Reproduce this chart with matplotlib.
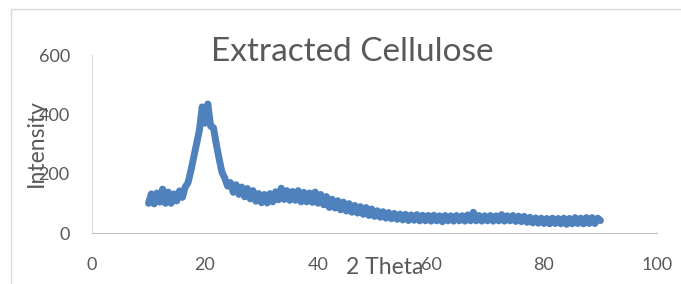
import numpy as np
import matplotlib.pyplot as plt
from matplotlib.lines import Line2D

# 2 theta grid (step 0.5) and intensities
two_theta = np.arange(10, 90.01, 0.5)
intensity = [
    100, 132, 98, 135, 104, 148, 100, 138, 100, 132,
    108, 142, 120, 155, 170, 210, 255, 300, 345, 425,
    370, 435, 360, 355, 300, 250, 205, 185, 158, 170,
    137, 163, 130, 155, 122, 150, 115, 143, 107, 133,
    102, 130, 101, 133, 105, 139, 112, 151, 113, 143,
    110, 140, 110, 143, 105, 137, 105, 135, 103, 138,
    100, 130, 95, 123, 86, 114, 84, 109, 78, 104,
    74, 99, 70, 93, 67, 89, 63, 86, 59, 81,
    56, 75, 53, 72, 50, 69, 48, 66, 46, 64,
    44, 63, 42, 61, 43, 62, 41, 60, 41, 59,
    40, 60, 41, 58, 38, 59, 41, 58, 40, 59,
    41, 58, 40, 61, 41, 70, 41, 59, 40, 58,
    41, 59, 40, 58, 41, 62, 40, 58, 41, 59,
    39, 57, 38, 56, 36, 53, 34, 51, 33, 50,
    32, 49, 31, 50, 32, 49, 31, 50, 29, 49,
    31, 52, 32, 50, 31, 52, 32, 52, 32, 50,
    42,
]

x_ticks = [0, 20, 40, 60, 80, 100]
y_ticks = [0, 200, 400, 600]

txt = '#595959'
plt.rcParams['font.family'] = ['Lato', 'DejaVu Sans']

fig = plt.figure(figsize=(6.81, 2.84), dpi=100)
ax = fig.add_axes([92 / 681, 1 - 233 / 284, 565 / 681, 178 / 284])

ax.plot(two_theta, intensity, color='#4F81BD', linewidth=5,
        solid_joinstyle='round', solid_capstyle='round')

ax.set_xlim(0, 100)
ax.set_ylim(0, 600)
ax.set_xticks(x_ticks)
ax.set_yticks(y_ticks)
ax.tick_params(length=0, labelsize=13, labelcolor=txt)
ax.tick_params(axis='y', pad=16)
ax.tick_params(axis='x', pad=17)
for s in ['top', 'right']:
    ax.spines[s].set_visible(False)
ax.spines['left'].set_color('#D9D9D9')
ax.spines['bottom'].set_color('#BFBFBF')

# chart area border
fig.add_artist(Line2D([11 / 681, 11 / 681], [0, 1 - 9 / 284], color='#D9D9D9', lw=1))
fig.add_artist(Line2D([11 / 681, 1], [1 - 9 / 284, 1 - 9 / 284], color='#D9D9D9', lw=1))

fig.text(352 / 681, 1 - 52 / 284, 'Extracted Cellulose', ha='center', va='center',
         fontsize=24, color=txt)
fig.text(36 / 681, 1 - 143 / 284, 'Intensity', rotation=90, ha='center', va='center',
         fontsize=16.5, color=txt)
fig.text(385 / 681, 1 - 268 / 284, '2 Theta', ha='center', va='center',
         fontsize=16.5, color=txt)

fig.savefig('out.png', dpi=100)
